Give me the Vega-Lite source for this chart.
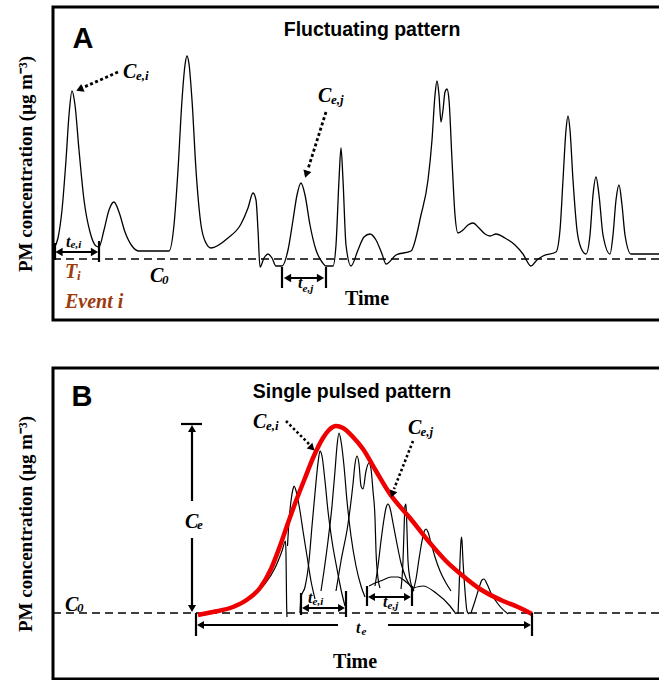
{
  "$schema": "https://vega.github.io/schema/vega-lite/v6.json",
  "padding": {"left": 14, "top": 5, "right": 0, "bottom": 0},
  "spacing": 44,
  "background": "white",
  "config": {"view": {"stroke": "black", "strokeWidth": 3}},
  "datasets": {
    "curveA": [
      {"x":51,"c":72},{"x":55,"c":82},{"x":59,"c":110},{"x":63,"c":160},{"x":66,"c":205},{"x":69,"c":229},{"x":72,"c":215},{"x":76,"c":170},{"x":81,"c":120},{"x":87,"c":88},{"x":93,"c":74},{"x":96,"c":73},{"x":101,"c":90},{"x":106,"c":110},{"x":111,"c":118},{"x":116,"c":108},{"x":122,"c":88},{"x":129,"c":74},{"x":136,"c":69},{"x":166,"c":69},{"x":171,"c":95},{"x":175,"c":150},{"x":179,"c":220},{"x":182,"c":255},{"x":184,"c":264},{"x":186,"c":256},{"x":189,"c":220},{"x":193,"c":150},{"x":198,"c":95},{"x":203,"c":77},{"x":208,"c":72},{"x":225,"c":82},{"x":238,"c":96},{"x":245,"c":112},{"x":250,"c":127},{"x":253,"c":120},{"x":255,"c":90},{"x":257,"c":53},{"x":261,"c":62},{"x":265,"c":66},{"x":269,"c":62},{"x":273,"c":54},{"x":279,"c":54},{"x":285,"c":70},{"x":290,"c":100},{"x":294,"c":125},{"x":298,"c":137},{"x":302,"c":125},{"x":307,"c":95},{"x":313,"c":70},{"x":319,"c":58},{"x":323,"c":54},{"x":330,"c":54},{"x":333,"c":75},{"x":336,"c":140},{"x":338,"c":172},{"x":340,"c":140},{"x":343,"c":75},{"x":348,"c":54},{"x":355,"c":70},{"x":361,"c":83},{"x":367,"c":86},{"x":373,"c":80},{"x":379,"c":66},{"x":383,"c":56},{"x":393,"c":65},{"x":408,"c":69},{"x":418,"c":105},{"x":425,"c":140},{"x":429,"c":180},{"x":432,"c":225},{"x":434,"c":239},{"x":436,"c":225},{"x":438,"c":198},{"x":440,"c":210},{"x":442,"c":228},{"x":444,"c":231},{"x":446,"c":220},{"x":449,"c":160},{"x":452,"c":105},{"x":455,"c":87},{"x":460,"c":90},{"x":465,"c":95},{"x":470,"c":97},{"x":476,"c":92},{"x":482,"c":86},{"x":487,"c":84},{"x":493,"c":86},{"x":502,"c":82},{"x":512,"c":75},{"x":520,"c":66},{"x":528,"c":54},{"x":534,"c":60},{"x":540,"c":64},{"x":553,"c":68},{"x":557,"c":90},{"x":560,"c":140},{"x":563,"c":190},{"x":565,"c":204},{"x":567,"c":190},{"x":570,"c":140},{"x":574,"c":90},{"x":578,"c":72},{"x":583,"c":66},{"x":587,"c":85},{"x":590,"c":125},{"x":593,"c":143},{"x":596,"c":125},{"x":600,"c":85},{"x":607,"c":66},{"x":610,"c":85},{"x":613,"c":120},{"x":616,"c":135},{"x":619,"c":115},{"x":622,"c":85},{"x":628,"c":66},{"x":659,"c":66}
    ],
    "segA": [
      {"kind":"dash","x":50,"x2":662,"c":61,"c2":61},
      {"kind":"solid","x":55,"x2":93,"c":68,"c2":68},
      {"kind":"solid","x":96,"x2":96,"c":79,"c2":58},
      {"kind":"solid","x":52,"x2":52,"c":77,"c2":60},
      {"kind":"solid","x":279,"x2":279,"c":53,"c2":32},
      {"kind":"solid","x":323,"x2":323,"c":53,"c2":32},
      {"kind":"solid","x":283,"x2":319,"c":42,"c2":42},
      {"kind":"dot","x":115,"x2":79,"c":248,"c2":232},
      {"kind":"dot","x":323,"x2":305,"c":208,"c2":151}
    ],
    "headA": [
      {"x":56,"c":68,"angle":270},
      {"x":91.5,"c":68,"angle":90},
      {"x":284.5,"c":42,"angle":270},
      {"x":317.5,"c":42,"angle":90},
      {"x":76.6,"c":230.6,"angle":246},
      {"x":303.3,"c":145.8,"angle":198}
    ],
    "labA": [
      {"kind":"letter","x":80,"c":272,"text":"A"},
      {"kind":"title","x":369,"c":284,"text":"Fluctuating pattern"},
      {"kind":"ital","x":120,"c":242,"text":"C"},
      {"kind":"sub","x":133,"c":240,"text":"e,i"},
      {"kind":"ital","x":315,"c":218,"text":"C"},
      {"kind":"sub","x":328,"c":216,"text":"e,j"},
      {"kind":"ital","x":147,"c":38,"text":"C"},
      {"kind":"sub","x":159,"c":36,"text":"0"},
      {"kind":"small","x":63,"c":73,"text":"t"},
      {"kind":"smallsub","x":67.5,"c":72,"text":"e,i"},
      {"kind":"small","x":295,"c":32,"text":"t"},
      {"kind":"smallsub","x":299.5,"c":28,"text":"e,j"},
      {"kind":"brown","x":62,"c":42,"text":"T"},
      {"kind":"brownsub","x":74,"c":40,"text":"i"},
      {"kind":"brown","x":62,"c":12,"text":"Event i"},
      {"kind":"time","x":364,"c":15,"text":"Time"}
    ],
    "redB": [
      {"x":195,"c":64},{"x":210,"c":67},{"x":230,"c":72},{"x":245,"c":80},{"x":257,"c":91},{"x":268,"c":110},{"x":277,"c":133},{"x":285,"c":156},{"x":293,"c":178},{"x":302,"c":201},{"x":310,"c":221},{"x":320,"c":241},{"x":326,"c":249},{"x":333,"c":253},{"x":340,"c":251},{"x":350,"c":242},{"x":360,"c":230},{"x":373,"c":208},{"x":387,"c":185},{"x":407,"c":161},{"x":427,"c":136},{"x":443,"c":118},{"x":460,"c":103},{"x":477,"c":90},{"x":500,"c":78},{"x":515,"c":72},{"x":529,"c":65}
    ],
    "peaksB": [
      {"s":"P0","x":250,"c":84},{"s":"P0","x":262,"c":95},{"s":"P0","x":272,"c":111},{"s":"P0","x":279,"c":128},{"s":"P0","x":282.5,"c":138},{"s":"P0","x":283,"c":125},{"s":"P0","x":283.3,"c":100},{"s":"P0","x":283.6,"c":75},{"s":"P0","x":284,"c":62},
      {"s":"P1","x":284.5,"c":133},{"s":"P1","x":286,"c":158},{"s":"P1","x":288,"c":178},{"s":"P1","x":290,"c":190},{"s":"P1","x":291,"c":193},{"s":"P1","x":292.5,"c":190},{"s":"P1","x":294.5,"c":182},{"s":"P1","x":297,"c":168},{"s":"P1","x":300,"c":148},{"s":"P1","x":304,"c":123},{"s":"P1","x":308,"c":98},{"s":"P1","x":312,"c":80},
      {"s":"P2","x":297,"c":66},{"s":"P2","x":298,"c":82},{"s":"P2","x":302,"c":92},{"s":"P2","x":306,"c":118},{"s":"P2","x":309,"c":153},{"s":"P2","x":312,"c":186},{"s":"P2","x":315,"c":216},{"s":"P2","x":317,"c":228},{"s":"P2","x":319,"c":223},{"s":"P2","x":322,"c":198},{"s":"P2","x":325,"c":168},{"s":"P2","x":329,"c":138},{"s":"P2","x":334,"c":110},{"s":"P2","x":339,"c":85},{"s":"P2","x":342,"c":73},
      {"s":"P3","x":318,"c":88},{"s":"P3","x":321,"c":108},{"s":"P3","x":325,"c":138},{"s":"P3","x":329,"c":173},{"s":"P3","x":332,"c":208},{"s":"P3","x":334,"c":233},{"s":"P3","x":336,"c":246},{"s":"P3","x":338,"c":238},{"s":"P3","x":341,"c":213},{"s":"P3","x":344,"c":178},{"s":"P3","x":348,"c":143},{"s":"P3","x":353,"c":113},{"s":"P3","x":358,"c":93},{"s":"P3","x":362,"c":82},
      {"s":"P4","x":333,"c":88},{"s":"P4","x":338,"c":118},{"s":"P4","x":345,"c":155},{"s":"P4","x":350,"c":195},{"s":"P4","x":352,"c":215},{"s":"P4","x":354,"c":223},{"s":"P4","x":356,"c":215},{"s":"P4","x":358,"c":193},{"s":"P4","x":360,"c":190},{"s":"P4","x":363,"c":208},{"s":"P4","x":366,"c":216},{"s":"P4","x":368,"c":210},{"s":"P4","x":370,"c":188},{"s":"P4","x":372,"c":161},{"s":"P4","x":373,"c":128},{"s":"P4","x":375,"c":101},{"s":"P4","x":377,"c":91},
      {"s":"P5","x":372,"c":93},{"s":"P5","x":375,"c":113},{"s":"P5","x":378,"c":138},{"s":"P5","x":381,"c":160},{"s":"P5","x":383,"c":171},{"s":"P5","x":385,"c":175},{"s":"P5","x":387,"c":171},{"s":"P5","x":390,"c":156},{"s":"P5","x":394,"c":135},{"s":"P5","x":398,"c":116},{"s":"P5","x":403,"c":101},{"s":"P5","x":408,"c":92},{"s":"P5","x":411,"c":88},
      {"s":"P6","x":398,"c":90},{"s":"P6","x":400,"c":118},{"s":"P6","x":401,"c":148},{"s":"P6","x":402,"c":173},{"s":"P6","x":403,"c":175},{"s":"P6","x":404,"c":148},{"s":"P6","x":405,"c":118},{"s":"P6","x":407,"c":100},{"s":"P6","x":410,"c":90},
      {"s":"H1","x":366,"c":93},{"s":"H1","x":372,"c":96},{"s":"H1","x":380,"c":99},{"s":"H1","x":388,"c":102},{"s":"H1","x":395,"c":102},{"s":"H1","x":402,"c":98},{"s":"H1","x":410,"c":91},
      {"s":"H2","x":410.5,"c":91},{"s":"H2","x":420,"c":93},{"s":"H2","x":433,"c":86},{"s":"H2","x":447,"c":73},{"s":"H2","x":453,"c":65},
      {"s":"P7","x":410,"c":88},{"s":"P7","x":413,"c":100},{"s":"P7","x":416,"c":120},{"s":"P7","x":419,"c":138},{"s":"P7","x":421,"c":147},{"s":"P7","x":423,"c":150},{"s":"P7","x":425,"c":147},{"s":"P7","x":428,"c":136},{"s":"P7","x":432,"c":122},{"s":"P7","x":437,"c":108},{"s":"P7","x":443,"c":96},{"s":"P7","x":448,"c":88},
      {"s":"P8","x":455,"c":65},{"s":"P8","x":456,"c":88},{"s":"P8","x":457,"c":118},{"s":"P8","x":458,"c":138},{"s":"P8","x":458.5,"c":142},{"s":"P8","x":459,"c":138},{"s":"P8","x":460,"c":118},{"s":"P8","x":462,"c":88},{"s":"P8","x":464,"c":68},{"s":"P8","x":466,"c":65},
      {"s":"P9","x":468,"c":66},{"s":"P9","x":472,"c":78},{"s":"P9","x":476,"c":91},{"s":"P9","x":479,"c":99},{"s":"P9","x":481,"c":100},{"s":"P9","x":484,"c":95},{"s":"P9","x":488,"c":86},{"s":"P9","x":495,"c":75},{"s":"P9","x":505,"c":65}
    ],
    "segB": [
      {"kind":"dash","x":50,"x2":662,"c":66,"c2":66},
      {"kind":"solid","x":178,"x2":199,"c":255,"c2":255},
      {"kind":"solid","x":189,"x2":189,"c":250,"c2":178},
      {"kind":"solid","x":189,"x2":189,"c":141,"c2":71},
      {"kind":"solid","x":193,"x2":193,"c":66,"c2":43},
      {"kind":"solid","x":197,"x2":335,"c":54,"c2":54},
      {"kind":"solid","x":385,"x2":525,"c":54,"c2":54},
      {"kind":"solid","x":529,"x2":529,"c":66,"c2":43},
      {"kind":"solid","x":298,"x2":298,"c":86,"c2":64},
      {"kind":"solid","x":343,"x2":343,"c":88,"c2":62},
      {"kind":"solid","x":302,"x2":339,"c":71,"c2":71},
      {"kind":"solid","x":364,"x2":364,"c":93,"c2":73},
      {"kind":"solid","x":409,"x2":409,"c":93,"c2":73},
      {"kind":"solid","x":368,"x2":405,"c":82,"c2":82},
      {"kind":"dot","x":283,"x2":308,"c":258,"c2":233},
      {"kind":"dot","x":410,"x2":391,"c":238,"c2":190}
    ],
    "headB": [
      {"x":189,"c":250.5,"angle":0},
      {"x":189,"c":70.5,"angle":180},
      {"x":197.5,"c":54,"angle":270},
      {"x":524.5,"c":54,"angle":90},
      {"x":302.5,"c":71,"angle":270},
      {"x":338.5,"c":71,"angle":90},
      {"x":368.5,"c":82,"angle":270},
      {"x":404.5,"c":82,"angle":90},
      {"x":309,"c":231,"angle":135},
      {"x":389.4,"c":184.8,"angle":200}
    ],
    "labB": [
      {"kind":"letter","x":79,"c":273,"text":"B"},
      {"kind":"title","x":349,"c":281,"text":"Single pulsed pattern"},
      {"kind":"ital","x":62,"c":68,"text":"C"},
      {"kind":"sub","x":74,"c":67,"text":"0"},
      {"kind":"ital","x":182,"c":151,"text":"C"},
      {"kind":"sub","x":194,"c":150,"text":"e"},
      {"kind":"ital","x":250,"c":251,"text":"C"},
      {"kind":"sub","x":263,"c":249,"text":"e,i"},
      {"kind":"ital","x":405,"c":245,"text":"C"},
      {"kind":"sub","x":417.5,"c":243,"text":"e,j"},
      {"kind":"small","x":353,"c":46,"text":"t"},
      {"kind":"smallsub","x":358.5,"c":44.5,"text":"e"},
      {"kind":"small","x":305,"c":76,"text":"t"},
      {"kind":"smallsub","x":309.5,"c":74,"text":"e,i"},
      {"kind":"small","x":380,"c":72,"text":"t"},
      {"kind":"smallsub","x":384.5,"c":70,"text":"e,j"},
      {"kind":"time","x":352,"c":11,"text":"Time"}
    ]
  },
  "vconcat": [
    {
      "width": 612,
      "height": 313,
      "encoding": {
        "x": {"field": "x", "type": "quantitative", "scale": {"domain": [50, 662], "nice": false, "zero": false}, "axis": null},
        "y": {"field": "c", "type": "quantitative", "scale": {"domain": [0, 313], "nice": false, "zero": false},
          "axis": {"title": "PM concentration (μg m⁻³)", "labels": false, "ticks": false, "domain": false, "grid": false, "minExtent": 0, "titlePadding": 18, "titleFont": "Liberation Serif", "titleFontSize": 19, "titleFontWeight": "bold", "titleColor": "black"}}
      },
      "layer": [
        {"data": {"name": "segA"}, "transform": [{"filter": "datum.kind == 'dash'"}], "mark": {"type": "rule", "color": "black", "strokeWidth": 1.3, "strokeDash": [8, 5]}, "encoding": {"x2": {"field": "x2"}, "y2": {"field": "c2"}}},
        {"data": {"name": "curveA"}, "mark": {"type": "line", "color": "black", "strokeWidth": 1.3, "interpolate": "monotone"}, "encoding": {}},
        {"data": {"name": "segA"}, "transform": [{"filter": "datum.kind == 'solid'"}], "mark": {"type": "rule", "color": "black", "strokeWidth": 2.2}, "encoding": {"x2": {"field": "x2"}, "y2": {"field": "c2"}}},
        {"data": {"name": "segA"}, "transform": [{"filter": "datum.kind == 'dot'"}], "mark": {"type": "rule", "color": "black", "strokeWidth": 2.8, "strokeDash": [3, 2.5]}, "encoding": {"x2": {"field": "x2"}, "y2": {"field": "c2"}}},
        {"data": {"name": "headA"}, "mark": {"type": "point", "shape": "triangle-up", "filled": true, "color": "black", "opacity": 1, "size": 70}, "encoding": {"angle": {"field": "angle", "type": "quantitative", "scale": null}}},
        {"data": {"name": "labA"}, "transform": [{"filter": "datum.kind == 'letter'"}], "mark": {"type": "text", "font": "Liberation Sans", "fontWeight": "bold", "fontSize": 29, "align": "center", "baseline": "alphabetic", "color": "black"}, "encoding": {"text": {"field": "text"}}},
        {"data": {"name": "labA"}, "transform": [{"filter": "datum.kind == 'title'"}], "mark": {"type": "text", "font": "Liberation Sans", "fontWeight": "bold", "fontSize": 19.5, "align": "center", "baseline": "alphabetic", "color": "black"}, "encoding": {"text": {"field": "text"}}},
        {"data": {"name": "labA"}, "transform": [{"filter": "datum.kind == 'ital'"}], "mark": {"type": "text", "font": "Liberation Serif", "fontStyle": "italic", "fontWeight": "bold", "fontSize": 20, "align": "left", "baseline": "alphabetic", "color": "black"}, "encoding": {"text": {"field": "text"}}},
        {"data": {"name": "labA"}, "transform": [{"filter": "datum.kind == 'sub'"}], "mark": {"type": "text", "font": "Liberation Serif", "fontStyle": "italic", "fontWeight": "bold", "fontSize": 13, "align": "left", "baseline": "alphabetic", "color": "black"}, "encoding": {"text": {"field": "text"}}},
        {"data": {"name": "labA"}, "transform": [{"filter": "datum.kind == 'small'"}], "mark": {"type": "text", "font": "Liberation Serif", "fontStyle": "italic", "fontWeight": "bold", "fontSize": 16, "align": "left", "baseline": "alphabetic", "color": "black"}, "encoding": {"text": {"field": "text"}}},
        {"data": {"name": "labA"}, "transform": [{"filter": "datum.kind == 'smallsub'"}], "mark": {"type": "text", "font": "Liberation Serif", "fontStyle": "italic", "fontWeight": "bold", "fontSize": 11, "align": "left", "baseline": "alphabetic", "color": "black"}, "encoding": {"text": {"field": "text"}}},
        {"data": {"name": "labA"}, "transform": [{"filter": "datum.kind == 'brown'"}], "mark": {"type": "text", "font": "Liberation Serif", "fontStyle": "italic", "fontWeight": "bold", "fontSize": 20, "align": "left", "baseline": "alphabetic", "color": "#9C3B0E"}, "encoding": {"text": {"field": "text"}}},
        {"data": {"name": "labA"}, "transform": [{"filter": "datum.kind == 'brownsub'"}], "mark": {"type": "text", "font": "Liberation Serif", "fontStyle": "italic", "fontWeight": "bold", "fontSize": 13, "align": "left", "baseline": "alphabetic", "color": "#9C3B0E"}, "encoding": {"text": {"field": "text"}}},
        {"data": {"name": "labA"}, "transform": [{"filter": "datum.kind == 'time'"}], "mark": {"type": "text", "font": "Liberation Serif", "fontWeight": "bold", "fontSize": 20, "align": "center", "baseline": "alphabetic", "color": "black"}, "encoding": {"text": {"field": "text"}}}
      ]
    },
    {
      "width": 612,
      "height": 311,
      "encoding": {
        "x": {"field": "x", "type": "quantitative", "scale": {"domain": [50, 662], "nice": false, "zero": false}, "axis": null},
        "y": {"field": "c", "type": "quantitative", "scale": {"domain": [0, 311], "nice": false, "zero": false},
          "axis": {"title": "PM concentration (μg m⁻³)", "labels": false, "ticks": false, "domain": false, "grid": false, "minExtent": 0, "titlePadding": 18, "titleFont": "Liberation Serif", "titleFontSize": 19, "titleFontWeight": "bold", "titleColor": "black"}}
      },
      "layer": [
        {"data": {"name": "segB"}, "transform": [{"filter": "datum.kind == 'dash'"}], "mark": {"type": "rule", "color": "black", "strokeWidth": 1.3, "strokeDash": [8, 5]}, "encoding": {"x2": {"field": "x2"}, "y2": {"field": "c2"}}},
        {"data": {"name": "peaksB"}, "mark": {"type": "line", "color": "black", "strokeWidth": 1.2, "interpolate": "monotone"}, "encoding": {"detail": {"field": "s"}}},
        {"data": {"name": "redB"}, "mark": {"type": "line", "color": "#EE0000", "strokeWidth": 4.5, "interpolate": "monotone"}, "encoding": {}},
        {"data": {"name": "segB"}, "transform": [{"filter": "datum.kind == 'solid'"}], "mark": {"type": "rule", "color": "black", "strokeWidth": 2.2}, "encoding": {"x2": {"field": "x2"}, "y2": {"field": "c2"}}},
        {"data": {"name": "segB"}, "transform": [{"filter": "datum.kind == 'dot'"}], "mark": {"type": "rule", "color": "black", "strokeWidth": 2.6, "strokeDash": [2.5, 2.5]}, "encoding": {"x2": {"field": "x2"}, "y2": {"field": "c2"}}},
        {"data": {"name": "headB"}, "mark": {"type": "point", "shape": "triangle-up", "filled": true, "color": "black", "opacity": 1, "size": 64}, "encoding": {"angle": {"field": "angle", "type": "quantitative", "scale": null}}},
        {"data": {"name": "labB"}, "transform": [{"filter": "datum.kind == 'letter'"}], "mark": {"type": "text", "font": "Liberation Sans", "fontWeight": "bold", "fontSize": 29, "align": "center", "baseline": "alphabetic", "color": "black"}, "encoding": {"text": {"field": "text"}}},
        {"data": {"name": "labB"}, "transform": [{"filter": "datum.kind == 'title'"}], "mark": {"type": "text", "font": "Liberation Sans", "fontWeight": "bold", "fontSize": 19.5, "align": "center", "baseline": "alphabetic", "color": "black"}, "encoding": {"text": {"field": "text"}}},
        {"data": {"name": "labB"}, "transform": [{"filter": "datum.kind == 'ital'"}], "mark": {"type": "text", "font": "Liberation Serif", "fontStyle": "italic", "fontWeight": "bold", "fontSize": 20, "align": "left", "baseline": "alphabetic", "color": "black"}, "encoding": {"text": {"field": "text"}}},
        {"data": {"name": "labB"}, "transform": [{"filter": "datum.kind == 'sub'"}], "mark": {"type": "text", "font": "Liberation Serif", "fontStyle": "italic", "fontWeight": "bold", "fontSize": 13, "align": "left", "baseline": "alphabetic", "color": "black"}, "encoding": {"text": {"field": "text"}}},
        {"data": {"name": "labB"}, "transform": [{"filter": "datum.kind == 'small'"}], "mark": {"type": "text", "font": "Liberation Serif", "fontStyle": "italic", "fontWeight": "bold", "fontSize": 16, "align": "left", "baseline": "alphabetic", "color": "black"}, "encoding": {"text": {"field": "text"}}},
        {"data": {"name": "labB"}, "transform": [{"filter": "datum.kind == 'smallsub'"}], "mark": {"type": "text", "font": "Liberation Serif", "fontStyle": "italic", "fontWeight": "bold", "fontSize": 11, "align": "left", "baseline": "alphabetic", "color": "black"}, "encoding": {"text": {"field": "text"}}},
        {"data": {"name": "labB"}, "transform": [{"filter": "datum.kind == 'time'"}], "mark": {"type": "text", "font": "Liberation Serif", "fontWeight": "bold", "fontSize": 20, "align": "center", "baseline": "alphabetic", "color": "black"}, "encoding": {"text": {"field": "text"}}}
      ]
    }
  ]
}
